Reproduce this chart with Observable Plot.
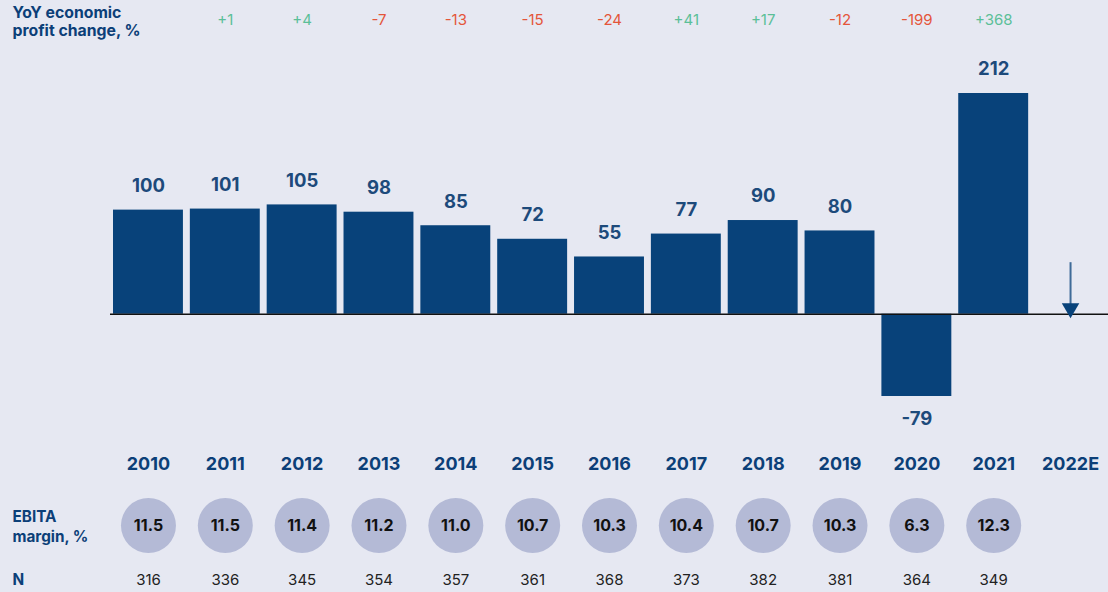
<!DOCTYPE html>
<html>
<head>
<meta charset="utf-8">
<script src="https://cdn.jsdelivr.net/npm/d3@7"></script>
<script src="https://cdn.jsdelivr.net/npm/@observablehq/plot@0.6"></script>
<style>
  html, body { margin: 0; padding: 0; background: #e6e8f2; }
  #chart svg { display: block; }
</style>
</head>
<body>
<div id="chart"></div>
<script>
const years = ["2010","2011","2012","2013","2014","2015","2016","2017","2018","2019","2020","2021","2022E"];
const profitYears = ["2010","2011","2012","2013","2014","2015","2016","2017","2018","2019","2020","2021"];
const profitIndex = [100, 101, 105, 98, 85, 72, 55, 77, 90, 80, -79, 212];
const changeYears = ["2011","2012","2013","2014","2015","2016","2017","2018","2019","2020","2021"];
const changeLabels = ["+1","+4","-7","-13","-15","-24","+41","+17","-12","-199","+368"];
const ebitaMargin = ["11.5","11.5","11.4","11.2","11.0","10.7","10.3","10.4","10.7","10.3","6.3","12.3"];
const sampleN = [316, 336, 345, 354, 357, 361, 368, 373, 382, 381, 364, 349];
const forecastYear = "2022E";
const forecastArrow = [{from: 50, to: 7}];
const rowLabels = ["YoY economic\nprofit change, %", "EBITA\nmargin, %", "N"];

const bars = profitYears.map((y, i) => ({year: y, value: profitIndex[i]}));
const changes = changeYears.map((y, i) => ({year: y, label: changeLabels[i], up: changeLabels[i].startsWith("+")}));
const margins = profitYears.map((y, i) => ({year: y, m: ebitaMargin[i], n: sampleN[i]}));

const font = "Inter, 'Noto Sans', sans-serif";
const barColor = "#08427a";

const chart = Plot.plot({
  width: 1108,
  height: 592,
  marginLeft: 113,
  marginRight: 3,
  marginTop: 93,
  marginBottom: 196,
  style: {background: "#e6e8f2", fontFamily: font},
  x: {type: "band", domain: years, paddingInner: 0.09, paddingOuter: 0, round: false, axis: null},
  y: {domain: [-79, 212], axis: null},
  marks: [
    Plot.barY(bars, {x: "year", y: "value", fill: barColor}),
    Plot.ruleY([0], {stroke: "#111", strokeWidth: 1.5, insetLeft: -3, insetRight: -3}),
    // value labels
    Plot.text(bars.filter(d => d.value >= 0), {x: "year", y: "value", text: d => String(d.value), dy: -24, fontSize: 18.5, fontWeight: 700, fill: "#1d4a7b"}),
    Plot.text(bars.filter(d => d.value < 0), {x: "year", y: "value", text: d => String(d.value), dy: 23, fontSize: 18.5, fontWeight: 700, fill: "#1d4a7b"}),
    // forecast arrow
    Plot.link(forecastArrow, {x1: () => forecastYear, x2: () => forecastYear, y1: "from", y2: "to", stroke: "#3f6b98", strokeWidth: 2}),
    Plot.dot(forecastArrow, {x: () => forecastYear, y: 0, symbol: "triangle", rotate: 180, r: 6.5, dy: -6, fill: barColor, stroke: "none"}),
    // top change row
    Plot.text(changes, {x: "year", frameAnchor: "top", lineAnchor: "middle", dy: -73, text: "label", fontSize: 15, fill: d => d.up ? "#5bbf98" : "#e4553a"}),
    // year labels
    Plot.text(years, {x: d => d, frameAnchor: "bottom", lineAnchor: "middle", dy: 68, text: d => d, fontSize: 18, fontWeight: 700, fill: "#0c3f78"}),
    // EBITA margin circles
    Plot.dot(margins, {x: "year", frameAnchor: "bottom", dy: 129, r: 27.5, fill: "#b4bad6", stroke: "none"}),
    Plot.text(margins, {x: "year", frameAnchor: "bottom", lineAnchor: "middle", dy: 129, text: "m", fontSize: 16, fontWeight: 700, fill: "#111"}),
    // N row
    Plot.text(margins, {x: "year", frameAnchor: "bottom", lineAnchor: "middle", dy: 184, text: d => String(d.n), fontSize: 15, fill: "#222"}),
    // row labels
    Plot.text([rowLabels[0]], {frameAnchor: "top-left", dx: -101, dy: -72, text: d => d, textAnchor: "start", lineAnchor: "middle", lineHeight: 1.15, fontSize: 15.8, fontWeight: 700, fill: "#0c3f78"}),
    Plot.text([rowLabels[1]], {frameAnchor: "bottom-left", dx: -101, dy: 129, text: d => d, textAnchor: "start", lineAnchor: "middle", lineHeight: 1.3, fontSize: 15.3, fontWeight: 700, fill: "#0c3f78"}),
    Plot.text([rowLabels[2]], {frameAnchor: "bottom-left", dx: -101, dy: 184, text: d => d, textAnchor: "start", lineAnchor: "middle", fontSize: 15.3, fontWeight: 700, fill: "#0c3f78"})
  ]
});
document.getElementById("chart").appendChild(chart);
</script>
</body>
</html>
